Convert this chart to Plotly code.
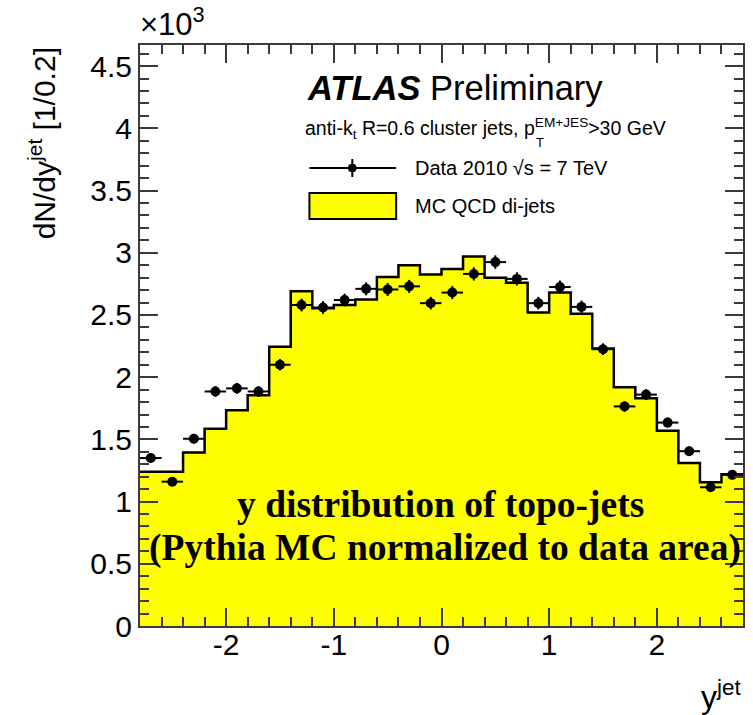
import plotly.graph_objects as go

# Jet rapidity bins: 28 bins of width 0.2 between -2.8 and 2.8
bin_edges = [round(-2.8 + 0.2 * i, 1) for i in range(29)]
bin_centers = [round(-2.7 + 0.2 * i, 1) for i in range(28)]

# Measured jet counts per bin (Data 2010, sqrt(s) = 7 TeV)
data_counts = [1350, 1160, 1505, 1885, 1910, 1885, 2100, 2580, 2560, 2620,
               2710, 2705, 2730, 2595, 2680, 2830, 2925, 2790, 2595, 2725,
               2565, 2225, 1765, 1860, 1635, 1405, 1115, 1215]
data_errors = [37, 34, 39, 43, 44, 43, 46, 51, 51, 51,
               52, 52, 52, 51, 52, 53, 54, 53, 51, 52,
               51, 47, 42, 43, 40, 37, 33, 35]

# Pythia QCD di-jet prediction, normalised to the data area
mc_counts = [1240, 1240, 1395, 1585, 1735, 1855, 2245, 2690, 2555, 2580,
             2625, 2805, 2900, 2825, 2870, 2970, 2800, 2760, 2520, 2680,
             2510, 2230, 1920, 1830, 1570, 1310, 1155, 1220]

y_tick_values = [0, 500, 1000, 1500, 2000, 2500, 3000, 3500, 4000, 4500]
y_tick_labels = ["0", "0.5", "1", "1.5", "2", "2.5", "3", "3.5", "4", "4.5"]
x_tick_values = [-2, -1, 0, 1, 2]
x_tick_labels = ["-2", "-1", "0", "1", "2"]

SANS = "Liberation Sans, Arial, Helvetica, sans-serif"
SERIF = "Liberation Serif, Times New Roman, serif"
FRAME = "#3a3a3a"

fig = go.Figure()

# MC histogram drawn as a filled step outline
fig.add_trace(go.Scatter(
    x=bin_edges,
    y=mc_counts + [mc_counts[-1]],
    mode="lines",
    line=dict(shape="hv", color="black", width=2.5),
    fill="tozeroy",
    fillcolor="#FFFF00",
    hoverinfo="skip",
    showlegend=False,
))

# Data points with bin-width horizontal bars and statistical errors
fig.add_trace(go.Scatter(
    x=bin_centers,
    y=data_counts,
    mode="markers",
    marker=dict(color="black", size=10),
    error_x=dict(type="constant", value=0.1, thickness=2, width=0, color="black"),
    error_y=dict(type="data", array=data_errors, thickness=2, width=0, color="black"),
    showlegend=False,
))

L, R, T, B = 140, 8, 45, 89
W, H = 753, 715
pw, ph = W - L - R, H - T - B


def px(xp):
    return (xp - L) / pw


def py(yp):
    return (H - B - yp) / ph


annotations = [
    # overall scale factor of the y axis
    dict(x=px(138), y=py(44), xref="paper", yref="paper", xanchor="left", yanchor="bottom",
         text="×10<sup>3</sup>", showarrow=False, font=dict(family=SANS, size=31, color="black")),
    # y-axis title
    dict(x=px(42), y=py(45), xref="paper", yref="paper", xanchor="center", yanchor="top",
         text="dN/dy<sup>jet</sup> [1/0.2]", textangle=-90, showarrow=False,
         font=dict(family=SANS, size=30, color="black")),
    # x-axis title
    dict(x=px(745), y=py(717), xref="paper", yref="paper", xanchor="right", yanchor="bottom",
         text="y<sup>jet</sup>", showarrow=False, font=dict(family=SANS, size=32, color="black")),
    # ATLAS label
    dict(x=px(306), y=py(88), xref="paper", yref="paper", xanchor="left", yanchor="middle",
         text="<b><i>ATLAS</i></b> Preliminary", showarrow=False,
         font=dict(family=SANS, size=34.5, color="black")),
    dict(x=px(304), y=py(128), xref="paper", yref="paper", xanchor="left", yanchor="middle",
         text="anti-k<sub>t</sub> R=0.6 cluster jets, p<sup>EM+JES</sup>>30 GeV", showarrow=False,
         font=dict(family=SANS, size=19.5, color="black")),
    dict(x=px(535), y=py(142), xref="paper", yref="paper", xanchor="left", yanchor="middle",
         text="T", showarrow=False, font=dict(family=SANS, size=13, color="black")),
    # legend texts
    dict(x=px(414), y=py(168), xref="paper", yref="paper", xanchor="left", yanchor="middle",
         text="Data 2010 √s = 7 TeV", showarrow=False, font=dict(family=SANS, size=20, color="black")),
    dict(x=px(414), y=py(206), xref="paper", yref="paper", xanchor="left", yanchor="middle",
         text="MC QCD di-jets", showarrow=False, font=dict(family=SANS, size=20, color="black")),
    # caption
    dict(x=px(441), y=py(505), xref="paper", yref="paper", xanchor="center", yanchor="middle",
         text="<b>y distribution of topo-jets</b>", showarrow=False,
         font=dict(family=SERIF, size=37.5, color="black")),
    dict(x=px(446), y=py(548), xref="paper", yref="paper", xanchor="center", yanchor="middle",
         text="<b>(Pythia MC normalized to data area)</b>", showarrow=False,
         font=dict(family=SERIF, size=37.5, color="black")),
]

shapes = [
    # legend: data marker with bars
    dict(type="line", xref="paper", yref="paper", x0=px(310), x1=px(397), y0=py(168), y1=py(168),
         line=dict(color="black", width=2)),
    dict(type="line", xref="paper", yref="paper", x0=px(353), x1=px(353), y0=py(159), y1=py(177),
         line=dict(color="black", width=2)),
    dict(type="circle", xref="paper", yref="paper", x0=px(349), x1=px(357), y0=py(172), y1=py(164),
         fillcolor="black", line=dict(color="black", width=1)),
    # legend: MC box
    dict(type="rect", xref="paper", yref="paper", x0=px(310), x1=px(397), y0=py(219), y1=py(193),
         fillcolor="#FFFF00", line=dict(color="black", width=2)),
]

axis_common = dict(
    showline=True, linecolor=FRAME, linewidth=2, mirror="ticks",
    ticks="inside", ticklen=18, tickwidth=1.5, tickcolor=FRAME,
    showgrid=False, zeroline=False,
    tickfont=dict(family=SANS, size=30, color="black"),
)

fig.update_layout(
    width=W, height=H,
    margin=dict(l=L, r=R, t=T, b=B, pad=0),
    paper_bgcolor="white", plot_bgcolor="white",
    xaxis=dict(range=[-2.8, 2.8], tickvals=x_tick_values, ticktext=x_tick_labels,
               minor=dict(dtick=0.2, tick0=0, ticks="inside", ticklen=9, tickwidth=1.5, tickcolor=FRAME),
               ticklabelstandoff=-9, **axis_common),
    yaxis=dict(range=[0, 4670], tickvals=y_tick_values, ticktext=y_tick_labels,
               minor=dict(dtick=100, tick0=0, ticks="inside", ticklen=9, tickwidth=1.5, tickcolor=FRAME),
               **axis_common),
    annotations=annotations,
    shapes=shapes,
    showlegend=False,
)

fig.write_html("out.html")
